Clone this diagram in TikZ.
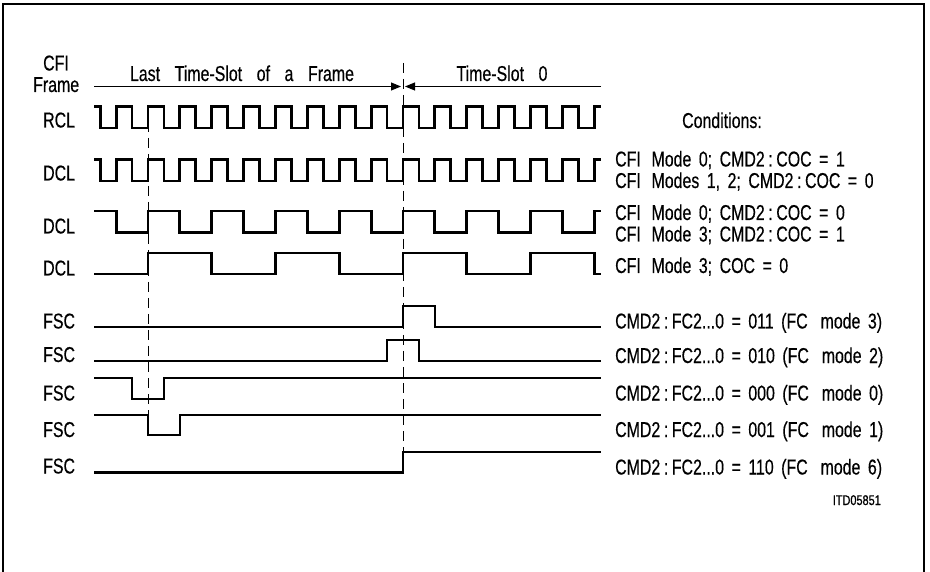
\documentclass[tikz,border=0pt]{standalone}
\usepackage{fontspec}
\setmainfont{Liberation Sans}[FakeStretch=0.74, WordSpace=1.7, FakeBold=0.4]
\newfontfamily\headfont{Liberation Sans}[FakeStretch=0.74, WordSpace=3.3, FakeBold=0.4]
\newfontfamily\smallid{Liberation Sans}[FakeStretch=0.78, FakeBold=0.8]
\usetikzlibrary{arrows.meta}
\tikzset{
  sig/.style={line width=2.8pt, line join=miter, line cap=butt},
  guide/.style={line width=1pt, dash pattern=on 10pt off 6pt},
  frameline/.style={line width=1.2pt},
  slotline/.style={line width=0.9pt, -{Triangle[length=10pt,width=8pt]}},
  lbl/.style={anchor=base west, inner sep=0pt, font=\fontsize{21.5}{24}\selectfont},
  cond/.style={anchor=base west, inner sep=0pt, font=\fontsize{21.5}{24}\selectfont},
  head/.style={anchor=base, inner sep=0pt, font=\headfont\fontsize{21.5}{24}\selectfont},
}
\begin{document}
\begin{tikzpicture}[x=1pt,y=-1pt]
\useasboundingbox (0,0) rectangle (930,572);
% frame
\coordinate (fbl) at (3,580);
\coordinate (ftl) at (3,4);
\coordinate (ftr) at (924,4);
\coordinate (fbr) at (924,580);
\draw[frameline] (fbl) -- (ftl) -- (ftr) -- (fbr);

% left labels
\node[lbl] (cfi) at (43,70.5) {CFI};
\node[lbl] (frame) at (33,92) {Frame};
\node[lbl] (rcl) at (43,127.5) {RCL};
\node[lbl] (dcla) at (43,180.5) {DCL};
\node[lbl] (dclb) at (43,233.5) {DCL};
\node[lbl] (dclc) at (43,275.5) {DCL};
\node[lbl] (fsca) at (43,328.5) {FSC};
\node[lbl] (fscb) at (43,362) {FSC};
\node[lbl] (fscc) at (43,400.5) {FSC};
\node[lbl] (fscd) at (43,437) {FSC};
\node[lbl] (fsce) at (43,473.5) {FSC};

% time slot headings and arrows
\node[head] (lastslot) at (242,81) {Last Time-Slot of a Frame};
\node[head] (slot0) at (502,81) {Time-Slot 0};
\coordinate (al) at (94,86.5);
\coordinate (atipl) at (401,86.5);
\coordinate (ar) at (601,86.5);
\coordinate (atipr) at (405,86.5);
\draw[slotline] (al) -- (atipl);
\draw[slotline] (ar) -- (atipr);

% dashed guides
\coordinate (ga1) at (148,106);
\coordinate (ga2) at (148,415);
\coordinate (gb1) at (403,63);
\coordinate (gb2) at (403,452);
\draw[guide] (ga1) -- (ga2);
\draw[guide] (gb1) -- (gb2);

% RCL
\draw[sig] (94,106.5) -- (100.19,106.5) -- (100.19,128) -- (116.125,128)
  \foreach \k in {0,...,14} { -- ++(0,-21.5) -- ++(15.9375,0) -- ++(0,21.5) -- ++(15.9375,0) }
  -- ++(0,-21.5) -- (601,106.5);
% DCL 1
\draw[sig] (94,159.5) -- (100.19,159.5) -- (100.19,181) -- (116.125,181)
  \foreach \k in {0,...,14} { -- ++(0,-21.5) -- ++(15.9375,0) -- ++(0,21.5) -- ++(15.9375,0) }
  -- ++(0,-21.5) -- (601,159.5);
% DCL 2
\draw[sig] (94,211) -- (116.125,211) -- (116.125,232.5) -- (148,232.5)
  \foreach \k in {0,...,6} { -- ++(0,-21.5) -- ++(31.875,0) -- ++(0,21.5) -- ++(31.875,0) }
  -- ++(0,-21.5) -- (601,211);
% DCL 3
\draw[sig] (94,274) -- (148,274)
  \foreach \k in {0,...,2} { -- ++(0,-21) -- ++(63.75,0) -- ++(0,21) -- ++(63.75,0) }
  -- ++(0,-21) -- ++(63.75,0) -- ++(0,21) -- (601,274);

% FSC
\draw[sig] (94,327) -- (403,327) -- (403,306) -- (435,306) -- (435,327) -- (601,327);
\draw[sig] (94,361) -- (387,361) -- (387,340) -- (419,340) -- (419,361) -- (601,361);
\draw[sig] (94,378) -- (132,378) -- (132,399) -- (164,399) -- (164,378) -- (601,378);
\draw[sig] (94,415) -- (148,415) -- (148,435) -- (180,435) -- (180,415) -- (601,415);
\draw[sig] (94,472.5) -- (403,472.5) -- (403,452) -- (601,452);

% conditions
\node[anchor=base, inner sep=0pt, font=\fontsize{21.5}{24}\selectfont] (condh) at (722,128) {Conditions:};
\node[cond] (c1) at (615,166.5) {CFI\hspace{0.5em}Mode 0; CMD2\,:\,COC = 1};
\node[cond] (c2) at (615,188) {CFI\hspace{0.5em}Modes 1, 2; CMD2\,:\,COC = 0};
\node[cond] (c3) at (615,220) {CFI\hspace{0.5em}Mode 0; CMD2\,:\,COC = 0};
\node[cond] (c4) at (615,241.5) {CFI\hspace{0.5em}Mode 3; CMD2\,:\,COC = 1};
\node[cond] (c5) at (615,273) {CFI\hspace{0.5em}Mode 3; COC = 0};
\node[cond] (f1) at (615,328.5) {CMD2\,:\,FC2...0 = 011 (FC\hspace{0.6em}mode 3)};
\node[cond] (f2) at (615,363) {CMD2\,:\,FC2...0 = 010 (FC\hspace{0.6em}mode 2)};
\node[cond] (f3) at (615,400.5) {CMD2\,:\,FC2...0 = 000 (FC\hspace{0.6em}mode 0)};
\node[cond] (f4) at (615,437) {CMD2\,:\,FC2...0 = 001 (FC\hspace{0.6em}mode 1)};
\node[cond] (f5) at (615,474.5) {CMD2\,:\,FC2...0 = 110 (FC\hspace{0.6em}mode 6)};
\node[anchor=base east, inner sep=0pt, font=\smallid\fontsize{14}{16}\selectfont] (itd) at (881,505) {ITD05851};
\end{tikzpicture}
\end{document}
